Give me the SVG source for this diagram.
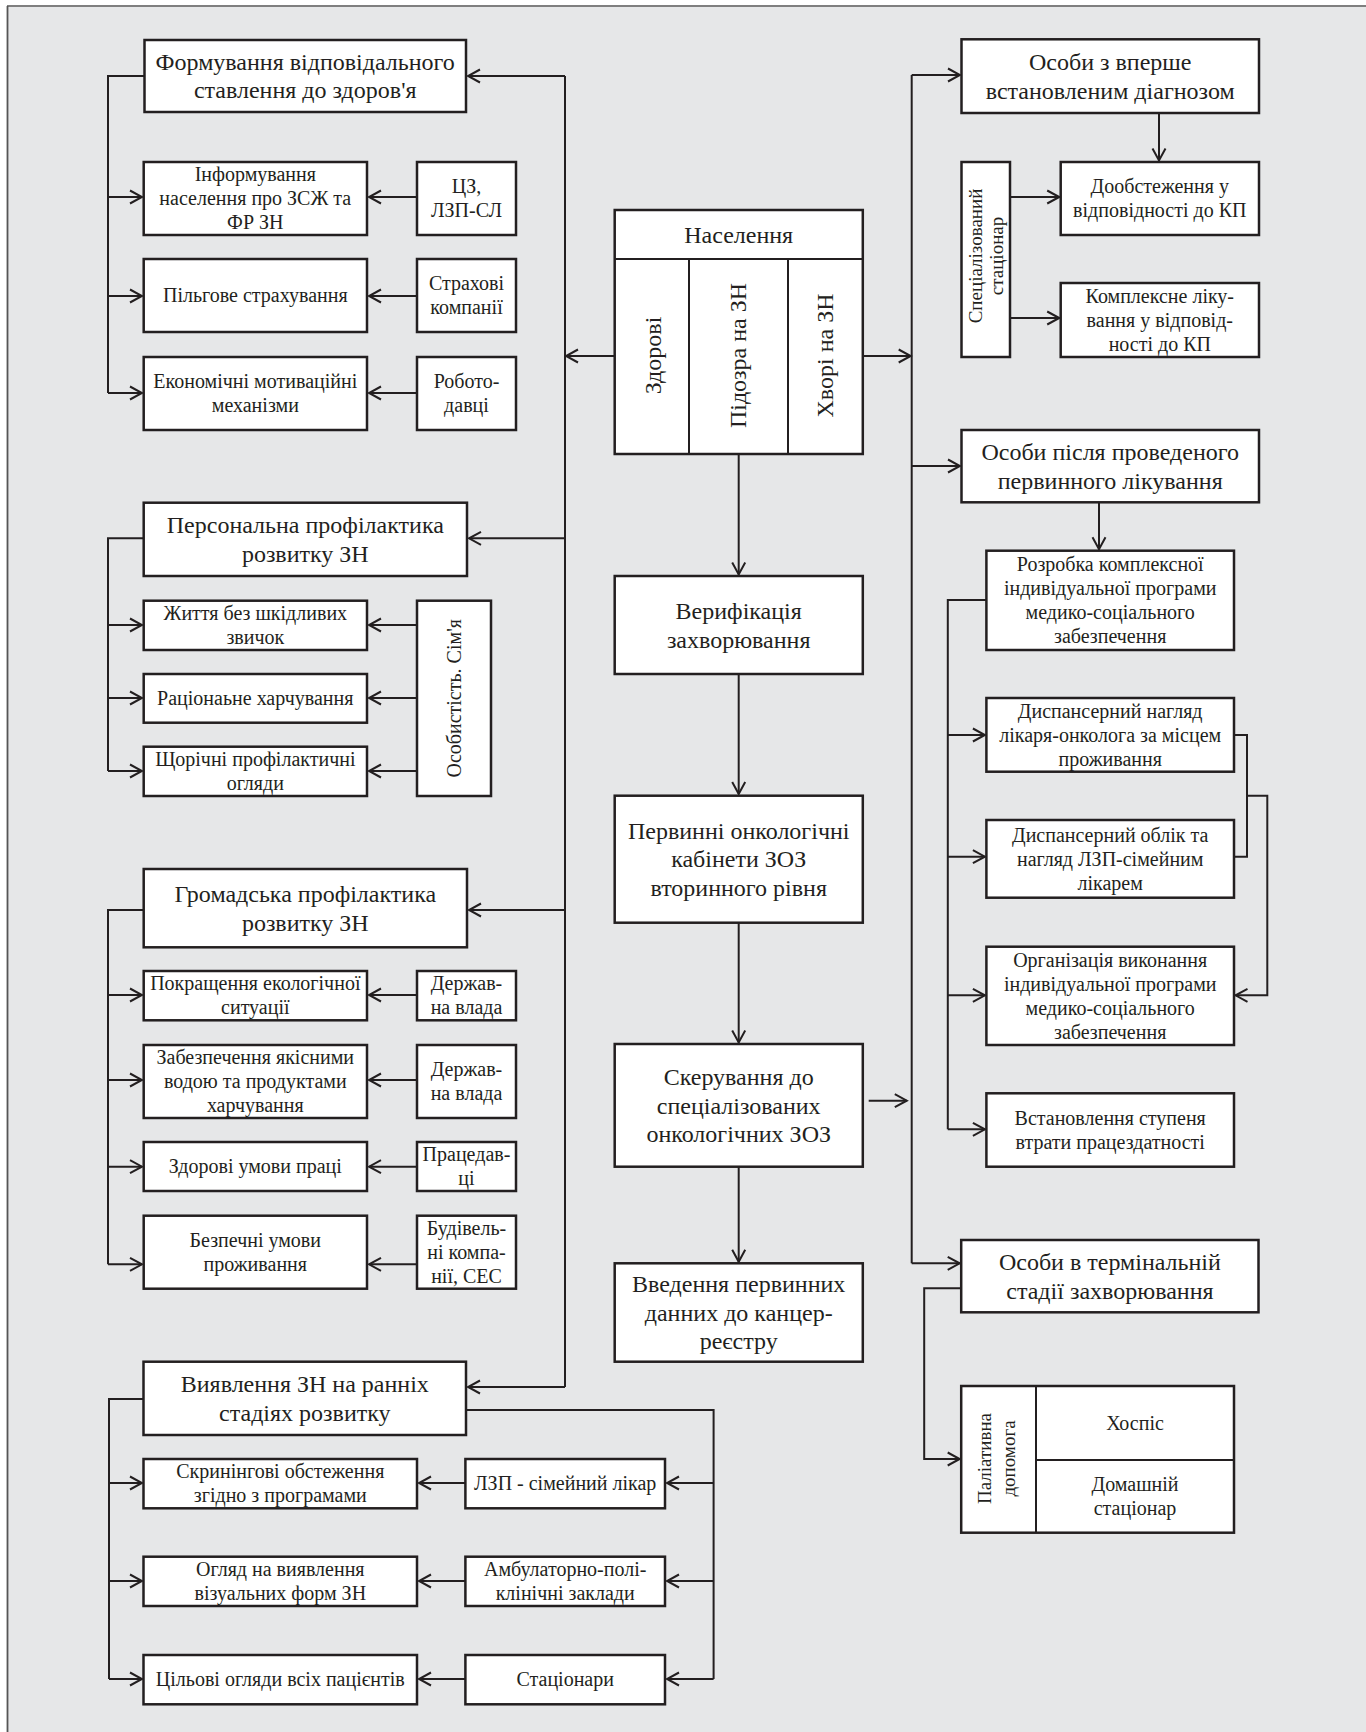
<svg xmlns="http://www.w3.org/2000/svg" width="1366" height="1732" viewBox="0 0 1366 1732">
<defs>
<style>
.bx{fill:#fff;stroke:#231f20;stroke-width:2.5}
.ln{fill:none;stroke:#231f20;stroke-width:2}
.t{font-family:"Liberation Serif","Times New Roman",serif;fill:#231f20;text-anchor:middle}
.L{font-size:24px}
.S{font-size:20px}
.V{font-size:19px}
</style>
<marker id="ah" viewBox="-14 -8 16 16" refX="0" refY="0" markerWidth="16" markerHeight="16" markerUnits="userSpaceOnUse" orient="auto">
<path d="M-12,-6.5 L0,0 L-12,6.5" fill="none" stroke="#231f20" stroke-width="2"/>
</marker>
</defs>
<rect x="0" y="0" width="1366" height="1732" fill="#fff"/>
<rect x="7" y="6" width="1359" height="1726" fill="#e6e7e8"/>
<line x1="7" y1="6" x2="1366" y2="6" stroke="#7f7f7f" stroke-width="1.8"/>
<line x1="7.5" y1="6" x2="7.5" y2="1732" stroke="#555" stroke-width="1.8"/>

<g id="connectors">
<!-- left main vertical -->
<path class="ln" d="M565,76 V1387"/>
<path class="ln" d="M565,76 H468" marker-end="url(#ah)"/>
<path class="ln" d="M565,538.3 H469" marker-end="url(#ah)"/>
<path class="ln" d="M565,910 H469" marker-end="url(#ah)"/>
<path class="ln" d="M565,1387 H468" marker-end="url(#ah)"/>
<path class="ln" d="M614.7,356 H566" marker-end="url(#ah)"/>
<!-- bus 1 -->
<path class="ln" d="M144.5,76 H108 V393"/>
<path class="ln" d="M108,197 H142" marker-end="url(#ah)"/>
<path class="ln" d="M108,296 H142" marker-end="url(#ah)"/>
<path class="ln" d="M108,393 H142" marker-end="url(#ah)"/>
<path class="ln" d="M417,197 H369" marker-end="url(#ah)"/>
<path class="ln" d="M417,296 H369" marker-end="url(#ah)"/>
<path class="ln" d="M417,393 H369" marker-end="url(#ah)"/>
<!-- bus 2 -->
<path class="ln" d="M143.7,538.3 H108 V771"/>
<path class="ln" d="M108,625 H142" marker-end="url(#ah)"/>
<path class="ln" d="M108,698 H142" marker-end="url(#ah)"/>
<path class="ln" d="M108,771 H142" marker-end="url(#ah)"/>
<path class="ln" d="M417,625 H369" marker-end="url(#ah)"/>
<path class="ln" d="M417,698 H369" marker-end="url(#ah)"/>
<path class="ln" d="M417,771 H369" marker-end="url(#ah)"/>
<!-- bus 3 -->
<path class="ln" d="M143.7,910 H108 V1264.3"/>
<path class="ln" d="M108,995 H142" marker-end="url(#ah)"/>
<path class="ln" d="M108,1080 H142" marker-end="url(#ah)"/>
<path class="ln" d="M108,1166.7 H142" marker-end="url(#ah)"/>
<path class="ln" d="M108,1264.3 H142" marker-end="url(#ah)"/>
<path class="ln" d="M417,995 H369" marker-end="url(#ah)"/>
<path class="ln" d="M417,1080 H369" marker-end="url(#ah)"/>
<path class="ln" d="M417,1166.7 H369" marker-end="url(#ah)"/>
<path class="ln" d="M417,1264.3 H369" marker-end="url(#ah)"/>
<!-- bus 4 -->
<path class="ln" d="M143.5,1399 H109 V1679"/>
<path class="ln" d="M109,1483 H142" marker-end="url(#ah)"/>
<path class="ln" d="M109,1581 H142" marker-end="url(#ah)"/>
<path class="ln" d="M109,1679 H142" marker-end="url(#ah)"/>
<path class="ln" d="M466,1410 H713.6 V1679"/>
<path class="ln" d="M713.6,1483 H667" marker-end="url(#ah)"/>
<path class="ln" d="M713.6,1581 H667" marker-end="url(#ah)"/>
<path class="ln" d="M713.6,1679 H667" marker-end="url(#ah)"/>
<path class="ln" d="M465.4,1483 H419" marker-end="url(#ah)"/>
<path class="ln" d="M465.4,1581 H419" marker-end="url(#ah)"/>
<path class="ln" d="M465.4,1679 H419" marker-end="url(#ah)"/>
<!-- center column -->
<path class="ln" d="M738.7,454 V574.5" marker-end="url(#ah)"/>
<path class="ln" d="M738.7,674 V794" marker-end="url(#ah)"/>
<path class="ln" d="M738.7,922.7 V1042.5" marker-end="url(#ah)"/>
<path class="ln" d="M738.7,1166.7 V1261.8" marker-end="url(#ah)"/>
<!-- right main vertical -->
<path class="ln" d="M911.7,75 V1263.3"/>
<path class="ln" d="M911.7,75 H960" marker-end="url(#ah)"/>
<path class="ln" d="M911.7,466 H960" marker-end="url(#ah)"/>
<path class="ln" d="M911.7,1263.3 H959.7" marker-end="url(#ah)"/>
<path class="ln" d="M862.8,356 H910.7" marker-end="url(#ah)"/>
<path class="ln" d="M868.7,1100.7 H906.8" marker-end="url(#ah)"/>
<path class="ln" d="M1159,113 V160.5" marker-end="url(#ah)"/>
<path class="ln" d="M1010,197 H1059.2" marker-end="url(#ah)"/>
<path class="ln" d="M1010,318 H1059.2" marker-end="url(#ah)"/>
<path class="ln" d="M1099,502.3 V549.2" marker-end="url(#ah)"/>
<path class="ln" d="M986.4,600 H947.8 V1129.3"/>
<path class="ln" d="M947.8,735 H984.9" marker-end="url(#ah)"/>
<path class="ln" d="M947.8,856.7 H984.9" marker-end="url(#ah)"/>
<path class="ln" d="M947.8,995.3 H984.9" marker-end="url(#ah)"/>
<path class="ln" d="M947.8,1129.3 H984.9" marker-end="url(#ah)"/>
<path class="ln" d="M1234,735 H1247 V856.7 H1234"/>
<path class="ln" d="M1247,795.7 H1267.3 V995.3 H1235.5" marker-end="url(#ah)"/>
<path class="ln" d="M961.2,1288.3 H924.2 V1459 H959.7" marker-end="url(#ah)"/>
</g>

<!-- Left column -->
<g id="n-formuvannia"><rect class="bx" x="144.5" y="40" width="321.5" height="72"/>
<text class="t L" x="305.2"><tspan x="305.2" y="69.9">Формування відповідального</tspan><tspan x="305.2" y="98.4">ставлення до здоров'я</tspan></text></g>
<g id="n-inform"><rect class="bx" x="143.7" y="162" width="223.3" height="73"/>
<text class="t S"><tspan x="255.3" y="181.3">Інформування</tspan><tspan x="255.3" y="205.3">населення про ЗСЖ та</tspan><tspan x="255.3" y="229.3">ФР ЗН</tspan></text></g>
<g id="n-cz"><rect class="bx" x="417" y="162" width="99" height="73"/>
<text class="t S"><tspan x="466.5" y="193.3">ЦЗ,</tspan><tspan x="466.5" y="217.3">ЛЗП-СЛ</tspan></text></g>
<g id="n-pilgove"><rect class="bx" x="143.7" y="259" width="223.3" height="73"/>
<text class="t S" x="255.3" y="302.3">Пільгове страхування</text></g>
<g id="n-strakhovi"><rect class="bx" x="417" y="259" width="99" height="73"/>
<text class="t S"><tspan x="466.5" y="290.3">Страхові</tspan><tspan x="466.5" y="314.3">компанії</tspan></text></g>
<g id="n-ekonomichni"><rect class="bx" x="143.7" y="357" width="223.3" height="73"/>
<text class="t S"><tspan x="255.3" y="388.3">Економічні мотиваційні</tspan><tspan x="255.3" y="412.3">механізми</tspan></text></g>
<g id="n-robotodavci"><rect class="bx" x="417" y="357" width="99" height="73"/>
<text class="t S"><tspan x="466.5" y="388.3">Робото-</tspan><tspan x="466.5" y="412.3">давці</tspan></text></g>

<g id="n-personalna"><rect class="bx" x="143.7" y="502.7" width="323.3" height="73.3"/>
<text class="t L"><tspan x="305.3" y="533.3">Персональна профілактика</tspan><tspan x="305.3" y="561.8">розвитку ЗН</tspan></text></g>
<g id="n-zhyttia"><rect class="bx" x="143.7" y="600.7" width="223.3" height="49.3"/>
<text class="t S"><tspan x="255.3" y="620.1">Життя без шкідливих</tspan><tspan x="255.3" y="644.1">звичок</tspan></text></g>
<g id="n-ratsionalne"><rect class="bx" x="143.7" y="674" width="223.3" height="48.7"/>
<text class="t S" x="255.3" y="705.1">Раціонаьне харчування</text></g>
<g id="n-shchorichni"><rect class="bx" x="143.7" y="746.7" width="223.3" height="49.3"/>
<text class="t S"><tspan x="255.3" y="766.1">Щорічні профілактичні</tspan><tspan x="255.3" y="790.1">огляди</tspan></text></g>
<g id="n-osobystist"><rect class="bx" x="417" y="600.7" width="74" height="195.3"/>
<text class="t S" transform="translate(461,698.3) rotate(-90)" x="0" y="0">Особистість. Сім'я</text></g>

<g id="n-hromadska"><rect class="bx" x="143.7" y="869" width="323.3" height="78.3"/>
<text class="t L"><tspan x="305.3" y="902.1">Громадська профілактика</tspan><tspan x="305.3" y="930.6">розвитку ЗН</tspan></text></g>
<g id="n-pokrashchennia"><rect class="bx" x="143.7" y="971" width="223.3" height="49.3"/>
<text class="t S"><tspan x="255.3" y="990.4">Покращення екологічної</tspan><tspan x="255.3" y="1014.4">ситуації</tspan></text></g>
<g id="n-derzh1"><rect class="bx" x="417" y="971" width="99" height="49.3"/>
<text class="t S"><tspan x="466.5" y="990.4">Держав-</tspan><tspan x="466.5" y="1014.4">на влада</tspan></text></g>
<g id="n-zabezpechennia"><rect class="bx" x="143.7" y="1045" width="223.3" height="73"/>
<text class="t S"><tspan x="255.3" y="1064.3">Забезпечення якісними</tspan><tspan x="255.3" y="1088.3">водою та продуктами</tspan><tspan x="255.3" y="1112.3">харчування</tspan></text></g>
<g id="n-derzh2"><rect class="bx" x="417" y="1045" width="99" height="73"/>
<text class="t S"><tspan x="466.5" y="1076.3">Держав-</tspan><tspan x="466.5" y="1100.3">на влада</tspan></text></g>
<g id="n-zdorovi-umovy"><rect class="bx" x="143.7" y="1142" width="223.3" height="49"/>
<text class="t S" x="255.3" y="1173.3">Здорові умови праці</text></g>
<g id="n-pratsedavtsi"><rect class="bx" x="417" y="1142" width="99" height="49"/>
<text class="t S"><tspan x="466.5" y="1161.3">Працедав-</tspan><tspan x="466.5" y="1185.3">ці</tspan></text></g>
<g id="n-bezpechni"><rect class="bx" x="143.7" y="1215.7" width="223.3" height="73"/>
<text class="t S"><tspan x="255.3" y="1247">Безпечні умови</tspan><tspan x="255.3" y="1271">проживання</tspan></text></g>
<g id="n-budivelni"><rect class="bx" x="417" y="1215.7" width="99" height="73"/>
<text class="t S"><tspan x="466.5" y="1235">Будівель-</tspan><tspan x="466.5" y="1259">ні компа-</tspan><tspan x="466.5" y="1283">нії, СЕС</tspan></text></g>

<g id="n-vyiavlennia"><rect class="bx" x="143.5" y="1361.7" width="322.5" height="73.3"/>
<text class="t L"><tspan x="304.8" y="1392.3">Виявлення ЗН на ранніх</tspan><tspan x="304.8" y="1420.8">стадіях розвитку</tspan></text></g>
<g id="n-skryninhovi"><rect class="bx" x="143.5" y="1459" width="273.5" height="49.3"/>
<text class="t S"><tspan x="280.3" y="1478.4">Скринінгові обстеження</tspan><tspan x="280.3" y="1502.4">згідно з програмами</tspan></text></g>
<g id="n-lzp"><rect class="bx" x="465.4" y="1459" width="199.6" height="49.3"/>
<text class="t S" x="565.2" y="1490.4">ЛЗП - сімейний лікар</text></g>
<g id="n-ohliad"><rect class="bx" x="143.5" y="1556.7" width="273.5" height="49.3"/>
<text class="t S"><tspan x="280.3" y="1576.1">Огляд на виявлення</tspan><tspan x="280.3" y="1600.1">візуальних форм ЗН</tspan></text></g>
<g id="n-ambulatorno"><rect class="bx" x="465.4" y="1556.7" width="199.6" height="49.3"/>
<text class="t S"><tspan x="565.2" y="1576.1">Амбулаторно-полі-</tspan><tspan x="565.2" y="1600.1">клінічні заклади</tspan></text></g>
<g id="n-tsilovi"><rect class="bx" x="143.5" y="1655" width="273.5" height="49.3"/>
<text class="t S" x="280.3" y="1686.4">Цільові огляди всіх пацієнтів</text></g>
<g id="n-statsionary"><rect class="bx" x="465.4" y="1655" width="199.6" height="49.3"/>
<text class="t S" x="565.2" y="1686.4">Стаціонари</text></g>

<!-- Center column -->
<g id="n-naselennia"><rect class="bx" x="614.7" y="210" width="248.1" height="244"/>
<path class="ln" d="M614.7,259 H862.8 M689,259 V454 M788,259 V454" stroke-width="2.5"/>
<text class="t L" x="738.7" y="242.7">Населення</text>
<text class="t L" transform="translate(661,355.5) rotate(-90)">Здорові</text>
<text class="t L" transform="translate(746,355.5) rotate(-90)">Підозра на ЗН</text>
<text class="t L" transform="translate(833,355.5) rotate(-90)">Хворі на ЗН</text></g>
<g id="n-veryfikatsiia"><rect class="bx" x="614.7" y="576" width="248.1" height="98"/>
<text class="t L"><tspan x="738.7" y="619">Верифікація</tspan><tspan x="738.7" y="647.5">захворювання</tspan></text></g>
<g id="n-pervynni"><rect class="bx" x="614.7" y="795.7" width="248.1" height="127"/>
<text class="t L"><tspan x="738.7" y="838.9">Первинні онкологічні</tspan><tspan x="738.7" y="867.4">кабінети ЗОЗ</tspan><tspan x="738.7" y="895.9">вторинного рівня</tspan></text></g>
<g id="n-skeruvannia"><rect class="bx" x="614.7" y="1044" width="248.1" height="122.7"/>
<text class="t L"><tspan x="738.7" y="1085">Скерування до</tspan><tspan x="738.7" y="1113.5">спеціалізованих</tspan><tspan x="738.7" y="1142">онкологічних ЗОЗ</tspan></text></g>
<g id="n-vvedennia"><rect class="bx" x="614.7" y="1263.3" width="248.1" height="98.4"/>
<text class="t L"><tspan x="738.7" y="1292.2">Введення первинних</tspan><tspan x="738.7" y="1320.7">данних до канцер-</tspan><tspan x="738.7" y="1349.2">реєстру</tspan></text></g>

<!-- Right column -->
<g id="n-osoby-vpershe"><rect class="bx" x="961.5" y="39.3" width="297.5" height="73.7"/>
<text class="t L"><tspan x="1110.2" y="70.1">Особи з вперше</tspan><tspan x="1110.2" y="98.6">встановленим діагнозом</tspan></text></g>
<g id="n-spec-statsionar"><rect class="bx" x="961.5" y="162" width="48.5" height="195"/>
<text class="t V" transform="translate(982,256) rotate(-90)">Спеціалізований</text>
<text class="t V" transform="translate(1003,256) rotate(-90)">стаціонар</text></g>
<g id="n-doobstezhennia"><rect class="bx" x="1060.7" y="162" width="198.3" height="73"/>
<text class="t S"><tspan x="1159.8" y="193.3">Дообстеження у</tspan><tspan x="1159.8" y="217.3">відповідності до КП</tspan></text></g>
<g id="n-kompleksne"><rect class="bx" x="1060.7" y="283" width="198.3" height="74"/>
<text class="t S"><tspan x="1159.8" y="302.8">Комплексне ліку-</tspan><tspan x="1159.8" y="326.8">вання у відповід-</tspan><tspan x="1159.8" y="350.8">ності до КП</tspan></text></g>
<g id="n-osoby-pislia"><rect class="bx" x="961.5" y="430" width="297.5" height="72.3"/>
<text class="t L"><tspan x="1110.2" y="460.1">Особи після проведеного</tspan><tspan x="1110.2" y="488.6">первинного лікування</tspan></text></g>
<g id="n-rozrobka"><rect class="bx" x="986.4" y="550.7" width="247.6" height="99.3"/>
<text class="t S"><tspan x="1110.2" y="571.1">Розробка комплексної</tspan><tspan x="1110.2" y="595.1">індивідуальної програми</tspan><tspan x="1110.2" y="619.1">медико-соціального</tspan><tspan x="1110.2" y="643.1">забезпечення</tspan></text></g>
<g id="n-dysp-nahliad"><rect class="bx" x="986.4" y="698" width="247.6" height="73.7"/>
<text class="t S"><tspan x="1110.2" y="717.6">Диспансерний нагляд</tspan><tspan x="1110.2" y="741.6">лікаря-онколога за місцем</tspan><tspan x="1110.2" y="765.6">проживання</tspan></text></g>
<g id="n-dysp-oblik"><rect class="bx" x="986.4" y="820" width="247.6" height="77.7"/>
<text class="t S"><tspan x="1110.2" y="841.6">Диспансерний облік та</tspan><tspan x="1110.2" y="865.6">нагляд ЛЗП-сімейним</tspan><tspan x="1110.2" y="889.6">лікарем</tspan></text></g>
<g id="n-orhanizatsiia"><rect class="bx" x="986.4" y="946.7" width="247.6" height="98.3"/>
<text class="t S"><tspan x="1110.2" y="966.6">Організація виконання</tspan><tspan x="1110.2" y="990.6">індивідуальної програми</tspan><tspan x="1110.2" y="1014.6">медико-соціального</tspan><tspan x="1110.2" y="1038.6">забезпечення</tspan></text></g>
<g id="n-vstanovlennia"><rect class="bx" x="986.4" y="1093.3" width="247.6" height="73.4"/>
<text class="t S"><tspan x="1110.2" y="1124.8">Встановлення ступеня</tspan><tspan x="1110.2" y="1148.8">втрати працездатності</tspan></text></g>
<g id="n-terminalna"><rect class="bx" x="961.2" y="1240" width="297.3" height="72.3"/>
<text class="t L"><tspan x="1109.9" y="1270.1">Особи в термінальній</tspan><tspan x="1109.9" y="1298.6">стадії захворювання</tspan></text></g>
<g id="n-paliatyvna"><rect class="bx" x="961.2" y="1386" width="272.8" height="146.7"/>
<path class="ln" d="M1036,1386 V1532.7 M1036,1460 H1234" stroke-width="2.5"/>
<text class="t V" transform="translate(991,1458.5) rotate(-90)">Паліативна</text>
<text class="t V" transform="translate(1015,1458.5) rotate(-90)">допомога</text>
<text class="t S" x="1135" y="1429.8">Хоспіс</text>
<text class="t S"><tspan x="1135" y="1491.1">Домашній</tspan><tspan x="1135" y="1515.1">стаціонар</tspan></text></g>
</svg>
